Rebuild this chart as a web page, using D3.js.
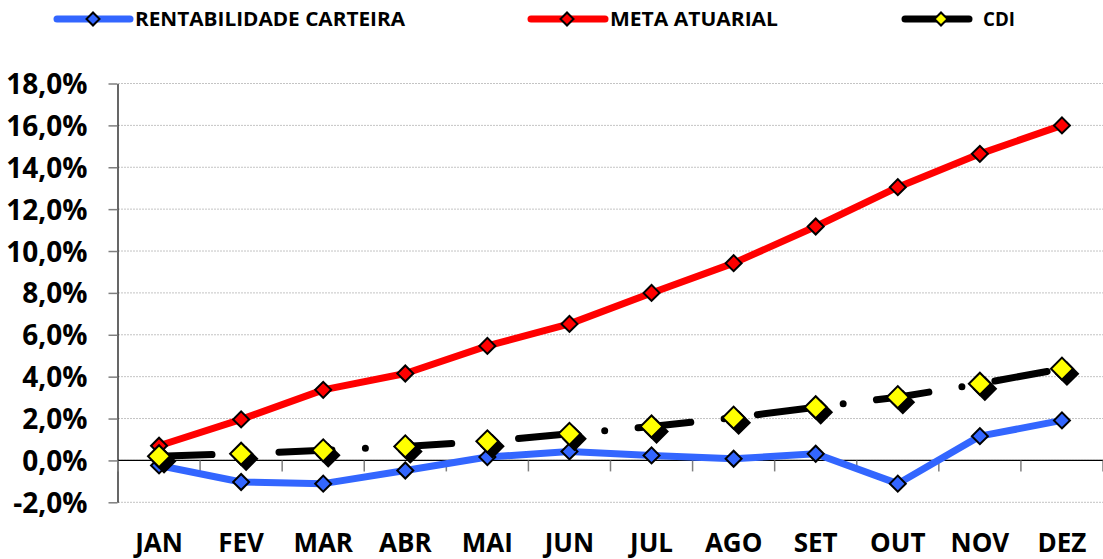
<!DOCTYPE html>
<html>
<head>
<meta charset="utf-8">
<script src="https://cdn.jsdelivr.net/npm/d3@7"></script>
<style>
  html, body { margin: 0; padding: 0; background: #fff; }
  svg { display: block; }
  text { font-family: "Open Sans", "Noto Sans", sans-serif; font-weight: 700; fill: #000; }
</style>
</head>
<body>
<svg id="chart" width="1103" height="559"></svg>
<script>
// Monthly accumulated returns (%)
const months = ["JAN","FEV","MAR","ABR","MAI","JUN","JUL","AGO","SET","OUT","NOV","DEZ"];
const carteira = [-0.24, -1.03, -1.11, -0.48, 0.16, 0.43, 0.24, 0.08, 0.32, -1.11, 1.16, 1.91];
const meta     = [0.70, 1.96, 3.37, 4.15, 5.47, 6.52, 8.00, 9.42, 11.17, 13.05, 14.64, 16.00];
const cdi      = [0.20, 0.32, 0.48, 0.67, 0.91, 1.27, 1.62, 2.04, 2.54, 3.02, 3.66, 4.38];
const yTicks   = [-2, 0, 2, 4, 6, 8, 10, 12, 14, 16, 18];
const seriesNames = ["RENTABILIDADE CARTEIRA", "META ATUARIAL", "CDI"];

const svg = d3.select("#chart");

const x = d3.scaleBand().domain(months).range([118, 1103]).paddingInner(0).paddingOuter(0);
const y = d3.scaleLinear().domain([-2, 18]).range([502.3, 83.5]);
const cx = m => x(m) + x.bandwidth() / 2;

// horizontal gridlines
svg.append("g").selectAll("line").data(yTicks).join("line")
  .attr("x1", 118).attr("x2", 1103)
  .attr("y1", d => y(d)).attr("y2", d => y(d))
  .attr("stroke", "#c4c4c4").attr("stroke-width", 1).attr("stroke-dasharray", "2,1");

// y axis
const fmt = d => d.toFixed(1).replace(".", ",") + "%";
const yAxis = svg.append("g")
  .attr("transform", "translate(117.5,0)")
  .call(d3.axisLeft(y).tickValues(yTicks).tickFormat(fmt).tickSize(9).tickSizeOuter(0).tickPadding(21));
yAxis.select(".domain").attr("stroke", "#000").attr("stroke-width", 1.2);
yAxis.selectAll(".tick line").attr("stroke", "#7f7f7f").attr("stroke-width", 1.5);
yAxis.selectAll(".tick text")
  .attr("font-size", 28).attr("font-family", "Open Sans, sans-serif").attr("font-weight", 700)
  .attr("fill", "#000").attr("dy", "0.36em");

// x axis at zero
svg.append("line")
  .attr("x1", 118).attr("x2", 1103).attr("y1", y(0)).attr("y2", y(0))
  .attr("stroke", "#000").attr("stroke-width", 1.2);
const bounds = d3.range(months.length + 1).map(i => x.range()[0] + i * x.step());
svg.append("g").selectAll("line").data(bounds).join("line")
  .attr("x1", d => d).attr("x2", d => d)
  .attr("y1", y(0)).attr("y2", y(0) + 11)
  .attr("stroke", "#7f7f7f").attr("stroke-width", 1.5);

// month labels
svg.append("g").selectAll("text").data(months).join("text")
  .attr("x", d => cx(d)).attr("y", 552)
  .attr("text-anchor", "middle").attr("font-size", 26)
  .text(d => d);

const line = d3.line().x(d => cx(d.m)).y(d => y(d.v));
const toPts = arr => arr.map((v, i) => ({ m: months[i], v }));
const diamond = (half) => d3.symbol().type(d3.symbolSquare).size(2 * half * half)();

function drawMarkers(pts, half, fill, shadow) {
  const g = svg.append("g");
  if (shadow) {
    g.selectAll("path.sh").data(pts).join("path").attr("class", "sh")
      .attr("d", diamond(half))
      .attr("transform", d => `translate(${cx(d.m) + 5},${y(d.v) + 5}) rotate(45)`)
      .attr("fill", "#000").attr("stroke", "#000").attr("stroke-width", 2);
  }
  g.selectAll("path.mk").data(pts).join("path").attr("class", "mk")
    .attr("d", diamond(half))
    .attr("transform", d => `translate(${cx(d.m)},${y(d.v)}) rotate(45)`)
    .attr("fill", fill).attr("stroke", "#000").attr("stroke-width", 2);
}

// RENTABILIDADE CARTEIRA
const pB = toPts(carteira);
svg.append("path").attr("d", line(pB)).attr("fill", "none")
  .attr("stroke", "#3366ff").attr("stroke-width", 7).attr("stroke-linejoin", "round");
drawMarkers(pB, 8, "#3366ff", false);

// META ATUARIAL
const pR = toPts(meta);
svg.append("path").attr("d", line(pR)).attr("fill", "none")
  .attr("stroke", "#ff0000").attr("stroke-width", 7).attr("stroke-linejoin", "round");
drawMarkers(pR, 8, "#ff0000", false);

// CDI (long dash - dot)
const pC = toPts(cdi);
svg.append("path").attr("d", line(pC)).attr("fill", "none")
  .attr("stroke", "#000").attr("stroke-width", 7).attr("stroke-linecap", "round")
  .attr("stroke-linejoin", "round").attr("stroke-dasharray", "53,33.5,0,33.5");
drawMarkers(pC, 11, "#ffff00", true);

// legend
const legend = [
  { name: seriesNames[0], color: "#3366ff", fill: "#3366ff", x1: 57, x2: 130, mx: 93, tx: 135, tw: 270 },
  { name: seriesNames[1], color: "#ff0000", fill: "#ff0000", x1: 531, x2: 605, mx: 567, tx: 610, tw: 168 },
  { name: seriesNames[2], color: "#000000", fill: "#ffff00", x1: 905, x2: 969, mx: 941, tx: 983, tw: 32 }
];
const lg = svg.append("g").selectAll("g").data(legend).join("g");
lg.append("line")
  .attr("x1", d => d.x1).attr("x2", d => d.x2).attr("y1", 19).attr("y2", 19)
  .attr("stroke", d => d.color).attr("stroke-width", 7).attr("stroke-linecap", "round");
lg.append("path")
  .attr("d", diamond(6.5))
  .attr("transform", d => `translate(${d.mx},19) rotate(45)`)
  .attr("fill", d => d.fill).attr("stroke", "#000").attr("stroke-width", 2);
lg.append("text")
  .attr("x", d => d.tx).attr("y", 26).attr("font-size", 19.5)
  .attr("textLength", d => d.tw).attr("lengthAdjust", "spacingAndGlyphs")
  .text(d => d.name);
</script>
</body>
</html>
